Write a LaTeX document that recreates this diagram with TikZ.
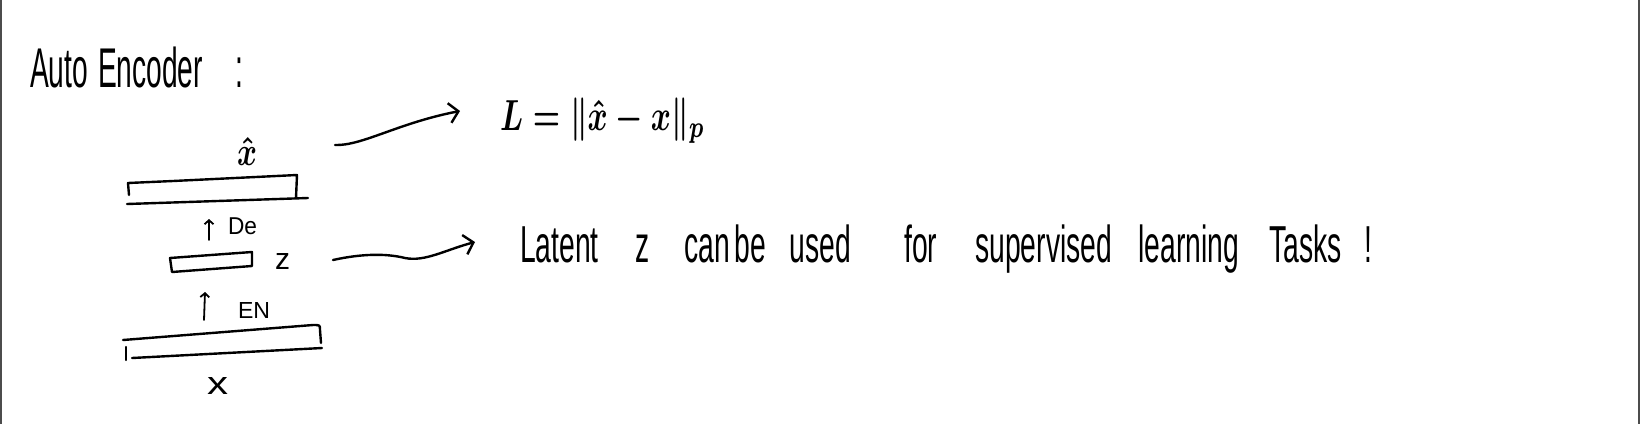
\documentclass[tikz,border=0pt]{standalone}
\usepackage{fontspec}
\setmainfont{Liberation Sans}
\usepackage{graphicx}
\usetikzlibrary{arrows.meta}
\begin{document}
\begin{tikzpicture}[x=1pt,y=-1pt,
  ink/.style={line width=2.4pt, line cap=round, line join=round},
  side/.style={line width=2pt, draw=black!70},
  lbl/.style={inner sep=0pt, outer sep=0pt},
  barb/.style={-{Straight Barb[length=9pt,width=20pt,line width=2.4pt]}},
  smallbarb/.style={-{Straight Barb[length=4pt,width=9pt,line width=1.8pt]}}]
\useasboundingbox (0,0) rectangle (1640,424);
\draw[side] (1,0) -- (1,424);
\draw[side] (1639,0) -- (1639,424);

% title
\node[lbl, anchor=base west] (title) at (30,87)
  {\fontsize{56}{56}\selectfont\resizebox*{213pt}{\totalheight}{Auto\hspace{20pt}Encoder\hspace{64pt}:}};

% labels of the stack
\node[lbl, anchor=north west] (xhat) at (237,137) {\resizebox*{20pt}{28pt}{\boldmath$\hat{x}$}};
\node[lbl, anchor=north west] (de) at (228,218) {\resizebox*{29pt}{17pt}{De}};
\node[lbl, anchor=north west] (zl) at (275,253) {\resizebox*{15pt}{16pt}{z}};
\node[lbl, anchor=north west] (en) at (238,302) {\resizebox*{32pt}{16pt}{EN}};
\node[lbl, anchor=north west] (xl) at (207,377) {\resizebox*{21pt}{17pt}{x}};

% bars
\draw[ink] (129,195) -- (128,183) -- (173,181) -- (297,175) -- (296,198);
\draw[ink] (127,204) -- (308,198);
\draw[ink] (170,258) -- (252,252) -- (252,266) -- (172,272) -- cycle;
\draw[ink] (123,340) -- (313,325) .. controls (320,325) .. (320,330) -- (321,343);
\draw[ink] (126,347) -- (126,360);
\draw[ink] (132,358) -- (322,348);

% up arrows
\coordinate (deb) at (209,240);
\coordinate (det) at (209,219);
\draw[ink, line width=1.8pt, smallbarb] (deb) -- (det);
\coordinate (enb) at (204,320);
\coordinate (ent) at (205,292);
\draw[ink, line width=1.8pt, smallbarb] (enb) -- (ent);

% right side texts
\node[lbl, anchor=north west] (loss) at (500,98)
  {\resizebox*{205pt}{45pt}{\boldmath$L=\|\hat{x}-x\|_p$}};
\node[lbl, anchor=base west] (latent) at (520,262)
  {\fontsize{52}{52}\selectfont\resizebox*{852pt}{\totalheight}{Latent\hspace{68pt}z\hspace{63pt}can\hspace{9pt}be\hspace{43pt}used\hspace{98pt}for\hspace{70pt}supervised\hspace{48pt}learning\hspace{56pt}Tasks\hspace{41pt}!}};

% connectors
\coordinate (a1s) at (335,145);
\coordinate (a1e) at (460,111);
\draw[ink, barb] (a1s) .. controls (362,146) and (398,123) .. (a1e);
\coordinate (a2s) at (333,260);
\coordinate (a2m) at (405,258);
\coordinate (a2e) at (475,242);
\draw[ink, barb] (a2s) .. controls (360,254) and (385,253) .. (a2m) .. controls (425,262) and (445,250) .. (a2e);
\end{tikzpicture}
\end{document}
